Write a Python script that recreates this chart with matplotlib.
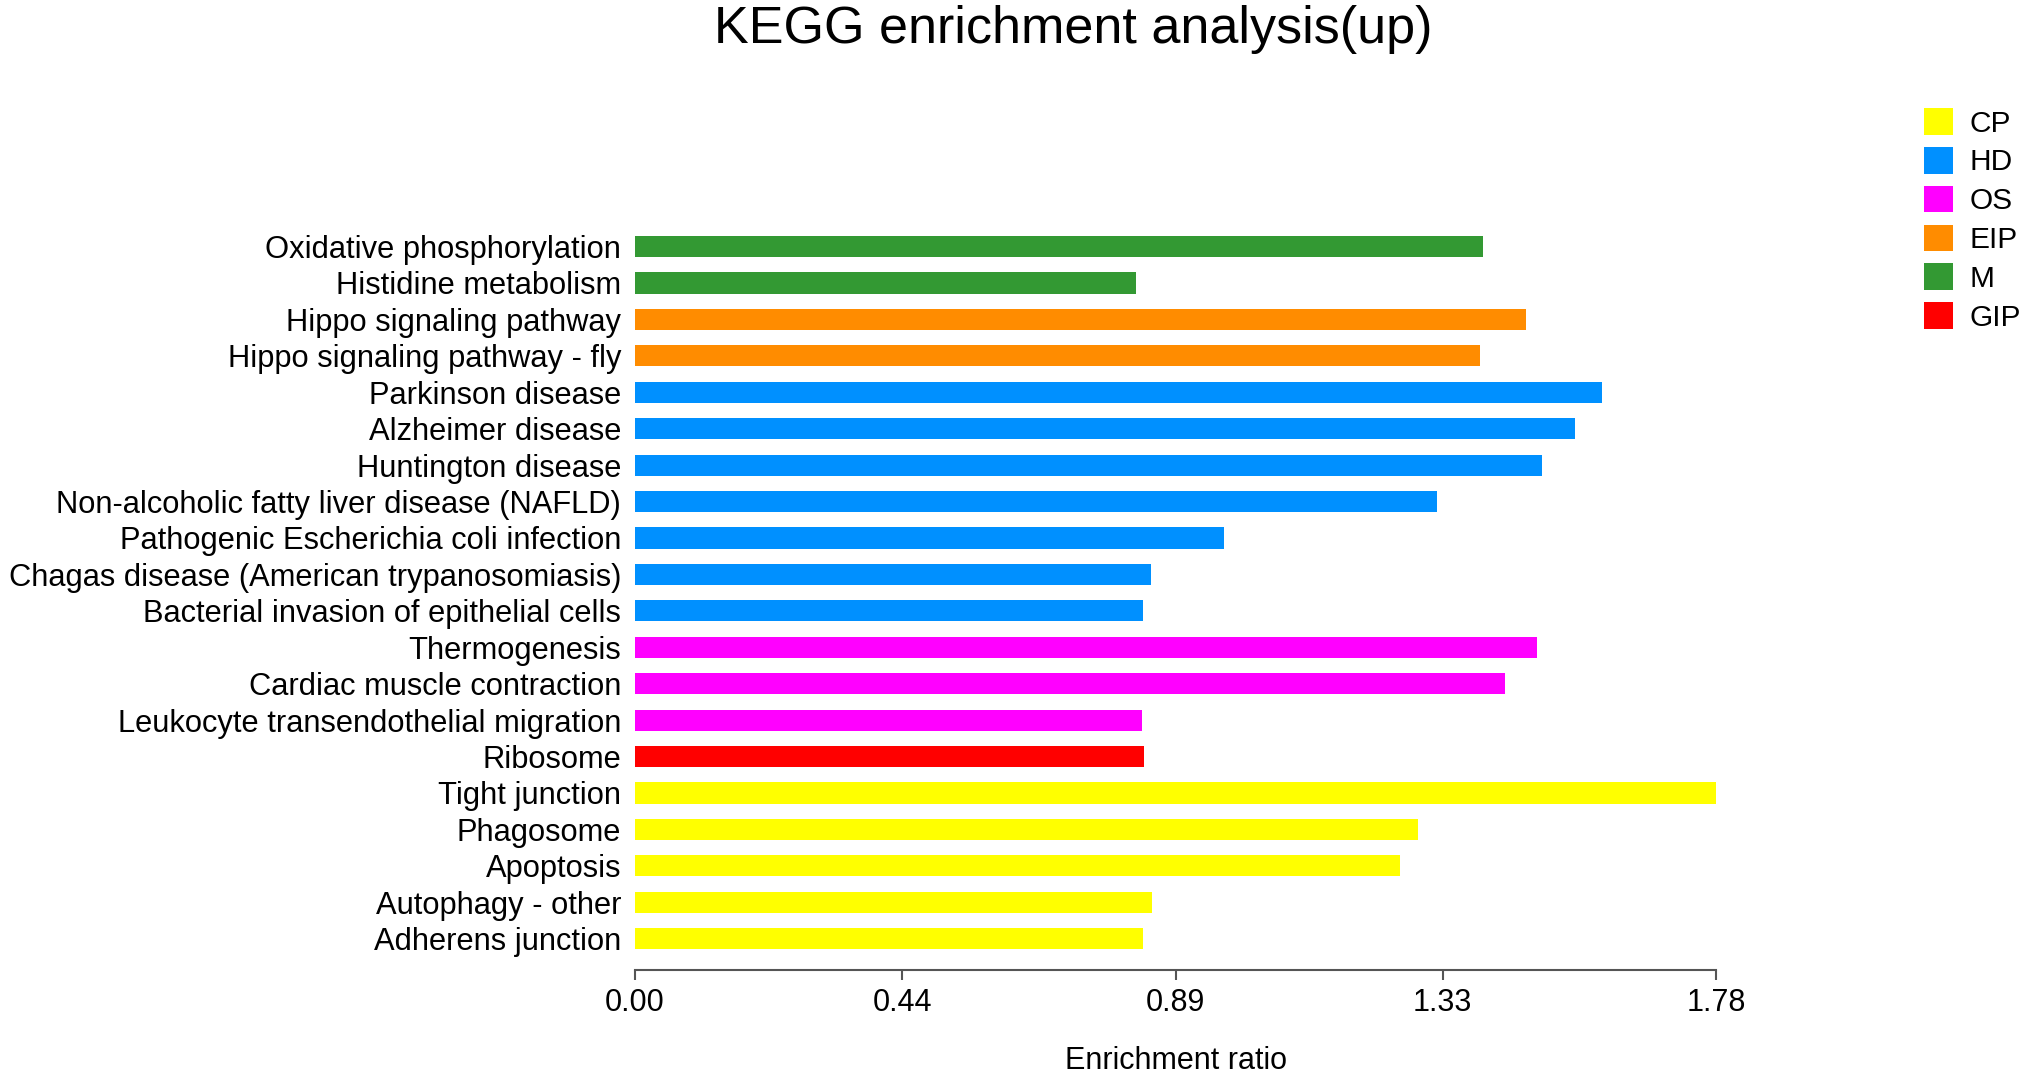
import matplotlib
matplotlib.use('Agg')
import matplotlib.pyplot as plt
from matplotlib.patches import Patch

# pathways listed bottom to top
pathways = [
    "Adherens junction",
    "Autophagy - other",
    "Apoptosis",
    "Phagosome",
    "Tight junction",
    "Ribosome",
    "Leukocyte transendothelial migration",
    "Cardiac muscle contraction",
    "Thermogenesis",
    "Bacterial invasion of epithelial cells",
    "Chagas disease (American trypanosomiasis)",
    "Pathogenic Escherichia coli infection",
    "Non-alcoholic fatty liver disease (NAFLD)",
    "Huntington disease",
    "Alzheimer disease",
    "Parkinson disease",
    "Hippo signaling pathway - fly",
    "Hippo signaling pathway",
    "Histidine metabolism",
    "Oxidative phosphorylation",
]
ratios = [0.836, 0.851, 1.260, 1.290, 1.785, 0.838, 0.834, 1.433, 1.486,
          0.836, 0.849, 0.970, 1.320, 1.493, 1.548, 1.593, 1.392, 1.467,
          0.825, 1.397]
groups = ["CP", "CP", "CP", "CP", "CP", "GIP", "OS", "OS", "OS",
          "HD", "HD", "HD", "HD", "HD", "HD", "HD", "EIP", "EIP", "M", "M"]

legend_order = ["CP", "HD", "OS", "EIP", "M", "GIP"]
group_colors = {"CP": "#ffff00", "HD": "#0090ff", "OS": "#ff00ff",
                "EIP": "#ff8c00", "M": "#339933", "GIP": "#ff0000"}
xticks = [0.00, 0.44, 0.89, 1.33, 1.78]

plt.rcParams['font.family'] = ['Liberation Sans', 'DejaVu Sans']

fig = plt.figure(figsize=(20.32, 10.82), dpi=100)
ax = fig.add_axes([0.3125, 0.1035, 0.532, 0.6855])

ypos = list(range(len(pathways)))
ax.barh(ypos, ratios, height=0.58, color=[group_colors[g] for g in groups])

ax.set_yticks(ypos)
ax.set_yticklabels(pathways, fontsize=22.2)
ax.set_xticks(xticks)
ax.set_xticklabels(["%.2f" % t for t in xticks], fontsize=22)
ax.set_xlim(0, 1.78)
ax.set_ylim(-0.86, 19.5)

for s in ["top", "right", "left"]:
    ax.spines[s].set_visible(False)
ax.spines["bottom"].set_color("#555555")
ax.spines["bottom"].set_linewidth(1.5)
ax.tick_params(axis="y", length=0, pad=10)
ax.tick_params(axis="x", length=7, width=1.5, color="#555555", pad=6)

ax.set_xlabel("Enrichment ratio", fontsize=22, labelpad=20)
fig.suptitle("KEGG enrichment analysis(up)", fontsize=37.5, x=0.528, y=0.995)

handles = [Patch(facecolor=group_colors[g], label=g) for g in legend_order]
fig.legend(handles=handles, loc="upper right", bbox_to_anchor=(1.008, 0.925),
           frameon=False, fontsize=21.5, handlelength=1.0, handleheight=1.0,
           handletextpad=0.55, labelspacing=0.31)

fig.savefig("out.png", dpi=100)
